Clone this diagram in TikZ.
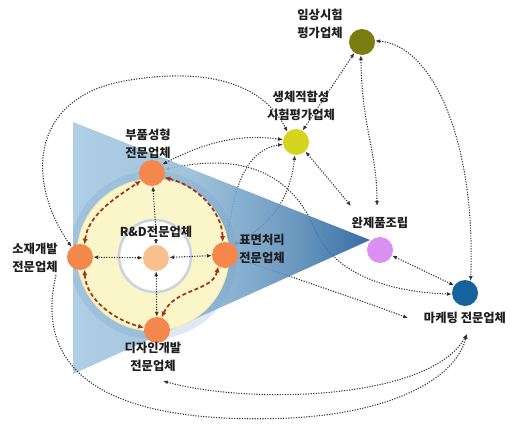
\documentclass[tikz,border=0pt]{standalone}
\usepackage{fontspec}
\newfontfamily\krfont{Noto Sans CJK KR}
\usetikzlibrary{arrows.meta}
\definecolor{lblue}{HTML}{A3C8E0}
\definecolor{dblue}{HTML}{1B5A97}
\definecolor{cring}{HTML}{6E9CC9}
\definecolor{cyellow}{HTML}{FBF6C9}
\definecolor{cyedge}{HTML}{F1E8AE}
\definecolor{cwring}{HTML}{CBD5E1}
\definecolor{corange}{HTML}{F4874C}
\definecolor{cpeach}{HTML}{F8C08F}
\definecolor{colive}{HTML}{7A7C12}
\definecolor{cyg}{HTML}{D5D41E}
\definecolor{clilac}{HTML}{D990F0}
\definecolor{cmkt}{HTML}{15639D}
\definecolor{cred}{HTML}{A3341F}
\definecolor{cdot}{HTML}{333333}
\pgfdeclarehorizontalshading{trishade}{100bp}{color(0bp)=(lblue); color(25bp)=(lblue); color(45bp)=(lblue!88!dblue); color(62bp)=(lblue!45!dblue); color(75bp)=(dblue); color(100bp)=(dblue)}
\pgfdeclarelayer{hid}
\pgfdeclarelayer{bgl}
\pgfsetlayers{hid,bgl,main}
\begin{document}
\begin{tikzpicture}[x=0.03cm,y=-0.03cm,
  >={Latex[length=4.2pt,width=3.4pt]},
  dotline/.style={draw=cdot, line width=0.9pt, dash pattern=on 1pt off 1.2pt},
  dotboth/.style={dotline, <->},
  dotend/.style={dotline, ->},
  redarc/.style={draw=cred, line width=1.5pt, dash pattern=on 3.4pt off 2.2pt,
     {Latex[length=5pt,width=4.5pt]}-{Latex[length=5pt,width=4.5pt]}},
  ball/.style={circle, minimum size=0.78cm, inner sep=0pt},
  lbl/.style={font=\krfont\bfseries\fontsize{10.5}{15.3}\selectfont, align=center, text=black!88, inner sep=1pt}]
\useasboundingbox (0,0) rectangle (512,423);

% nodes
\node[ball, fill=corange] (P) at (152,173) {};
\node[ball, fill=corange] (S) at (80,257) {};
\node[ball, fill=corange] (F) at (225,255) {};
\node[ball, fill=corange] (D) at (157,330) {};
\node[ball, fill=cpeach] (R) at (156,258) {};
\node[ball, fill=colive] (C) at (362,42) {};
\node[ball, fill=cyg] (B) at (296,142) {};
\node[ball, fill=clilac] (W) at (380,250) {};
\node[ball, fill=cmkt] (M) at (465,293) {};

% labels
\node[lbl] (Cl) at (320,24) {임상시험\\평가업체};
\node[lbl] (Bl) at (301,106) {생체적합성\\시험평가업체};
\node[lbl] (Pl) at (148,144) {부품성형\\전문업체};
\node[lbl] (Sl) at (35,258) {소재개발\\전문업체};
\node[lbl] (Fl) at (262,249) {표면처리\\전문업체};
\node[lbl] (Dl) at (153,357) {디자인개발\\전문업체};
\node[lbl] (Wl) at (380,223) {완제품조립};
\node[lbl] (Ml) at (465,318) {마케팅 전문업체};
\node[lbl] (Rl) at (156,232) {R\&D전문업체};

\coordinate (w1) at (377,206);
\coordinate (w2) at (351,206);
\coordinate (m1) at (408,318);
\coordinate (m2) at (467,334);
\coordinate (d1) at (163,381);
\coordinate (s1) at (56,275);

% background shapes
\begin{pgfonlayer}{bgl}
  \shade[shading=trishade, fill opacity=0.88] (73,122) -- (370,240) -- (73,374) -- cycle;
  \begin{scope}
    \clip (73,0) rectangle (512,423);
    \fill[cring, opacity=0.22] (153,255) circle[radius=2.52cm];
  \end{scope}
  \filldraw[fill=cyellow, draw=cyedge, line width=0.8pt] (153,255) circle[radius=2.28cm];
  \filldraw[fill=white, draw=cwring, line width=2.2pt] (155,256) circle[radius=1.08cm];
\end{pgfonlayer}

% connectors passing behind the triangle
\begin{pgfonlayer}{hid}
  \draw[dotboth] (P.15) .. controls (250,150) and (295,180) .. (315,230)
        .. controls (335,275) and (390,292) .. (M.185);
  \draw[dotboth] (F.80) .. controls (233,190) and (245,150) .. (B.190);
  \draw[dotboth] (F.50) .. controls (270,225) and (290,200) .. (B.-95);
  \draw[dotend] (F.-15) .. controls (300,280) and (360,300) .. (m1);
\end{pgfonlayer}

% inner connectors
\draw[dotline,<-] (P) -- (Rl);
\draw[dotline,->] (Rl) -- (R);
\draw[dotboth] (R) -- (S);
\draw[dotboth] (R) -- (F);
\draw[dotboth] (R) -- (D);

% red dashed arcs
\draw[redarc] (S.70) .. controls (88,215) and (115,198) .. (P.215);
\draw[redarc] (P.-20) .. controls (195,185) and (222,210) .. (F.100);
\draw[redarc] (F.240) .. controls (212,292) and (175,288) .. (D.70);
\draw[redarc] (S.-70) .. controls (86,300) and (115,320) .. (D.170);

% outer connectors
\draw[dotboth] (S.130) .. controls (25,180) and (30,95) .. (130,80)
      .. controls (205,68) and (262,82) .. (B.130);
\draw[dotboth] (B.60) -- (C.235);
\draw[dotboth] (C.-95) .. controls (362,130) and (377,150) .. (w1);
\draw[dotboth] (B.-45) -- (w2);
\draw[dotboth] (C.5) .. controls (432,45) and (476,140) .. (M.65);
\draw[dotboth] (W.-25) -- (M.145);
\draw[dotboth] (P.40) .. controls (200,145) and (235,133) .. (B.170);
\draw[dotboth] (d1) .. controls (250,405) and (430,400) .. (m2);
\draw[dotend] (s1) .. controls (30,385) and (130,425) .. (290,418)
      .. controls (390,413) and (455,380) .. (m2);
\end{tikzpicture}
\end{document}
